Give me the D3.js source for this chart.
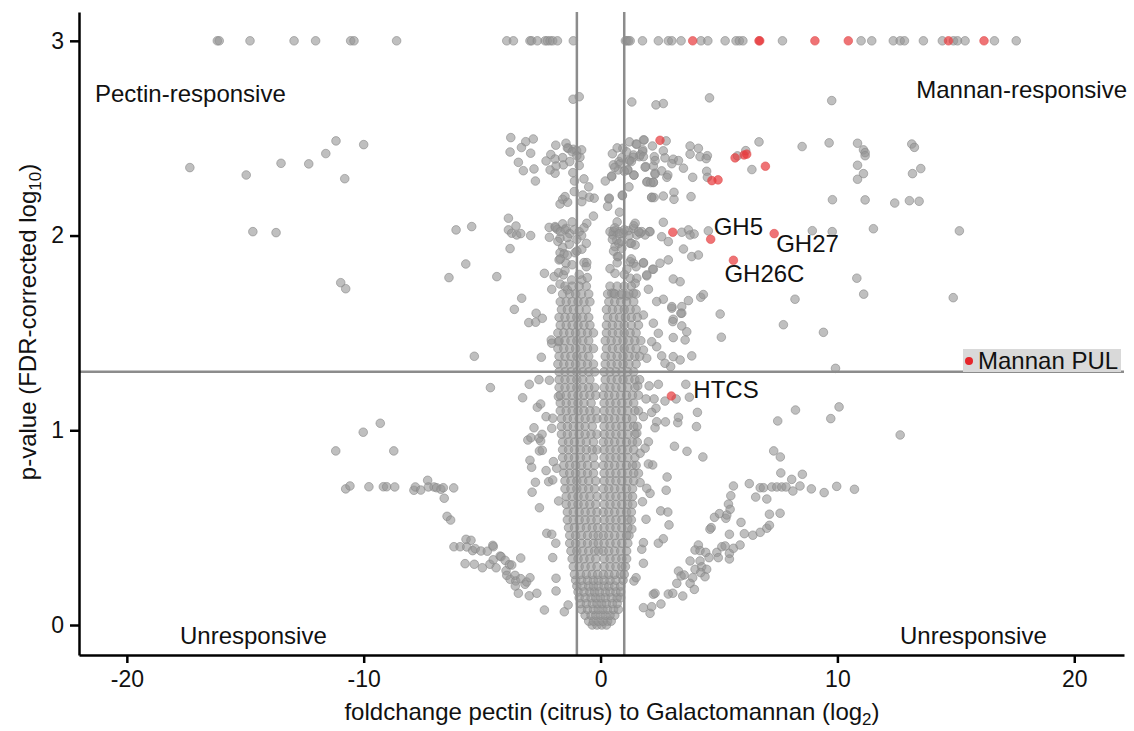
<!DOCTYPE html>
<html>
<head>
<meta charset="utf-8">
<script src="https://cdn.jsdelivr.net/npm/d3@7"></script>
<style>
  body { margin: 0; background: #fff; }
  svg { display: block; font-family: "Liberation Sans", Arial, Helvetica, sans-serif; }
  .axis text { font-size: 23px; fill: #111; }
  .axis path, .axis line { stroke: #000; stroke-width: 2.5; }
  .ref { stroke: #8c8c8c; stroke-width: 2.5; }
  .dot { fill: #959595; fill-opacity: 0.6; stroke: #888; stroke-opacity: 0.6; stroke-width: 1; }
  .hit { fill: #e8383a; fill-opacity: 0.7; stroke: #e05050; stroke-opacity: 0.6; stroke-width: 1; }
  .lbl { font-size: 24px; fill: #111; }
  .ttl { font-size: 24px; fill: #111; }
</style>
</head>
<body>
<svg width="1134" height="731"></svg>
<script>
// values: x = log2 fold change, y = -log10 FDR p
const cappedGrey = [-16.18, -16.10, -14.80, -12.94, -12.03, -10.55, -10.41, -8.61, -3.96, -3.68,
  -2.98, -2.91, -2.67, -2.34, -2.25, -2.13, -2.02, -1.82, -1.15, 1.05, 1.11, 1.18, 1.25, 1.77,
  2.44, 2.86, 3.01, 3.40, 4.24, 4.53, 5.26, 5.72, 5.86, 6.01, 7.68, 11.0, 11.45, 12.36, 12.65,
  12.83, 13.63, 14.43, 14.90, 15.07, 15.39, 16.63, 17.55];
const cappedRed = [3.89, 6.69, 6.72, 9.05, 10.46, 14.69, 16.19];

const pectinSide = [
  [-17.34, 2.349], [-14.96, 2.311], [-13.49, 2.371], [-12.32, 2.368], [-11.60, 2.421], [-11.17, 2.486],
  [-10.0, 2.467], [-10.80, 2.292], [-14.68, 2.020], [-13.70, 2.015], [-10.97, 1.758], [-10.76, 1.727],
  [-6.10, 2.029], [-5.44, 2.046], [-5.69, 1.854], [-6.40, 1.784], [-4.38, 1.789],
  [-3.64, 1.621], [-3.03, 1.553], [-2.74, 1.555], [-2.46, 1.575], [-2.72, 1.601], [-2.08, 1.464],
  [-2.06, 1.447], [-1.78, 1.455], [-5.33, 1.380], [-2.50, 1.375], [-4.65, 1.219], [-3.01, 1.236],
  [-2.60, 1.260], [-2.16, 1.257], [-3.29, 1.167], [-2.67, 1.118], [-2.53, 1.135], [-2.30, 1.070],
  [-2.02, 1.062], [-1.78, 1.173], [-2.81, 1.013], [-3.07, 0.950], [-2.94, 0.962], [-2.60, 0.959],
  [-2.47, 0.979], [-2.53, 0.945], [-2.58, 0.894], [-2.46, 0.897], [-2.06, 1.010], [-2.98, 0.846],
  [-2.91, 0.810], [-2.30, 0.793], [-2.75, 0.733], [-2.89, 0.682], [-2.58, 0.602], [-2.19, 0.736],
  [-2.02, 0.745], [-1.99, 0.839], [-1.85, 0.805], [-1.77, 0.637], [-2.27, 0.471], [-2.06, 0.466],
  [-1.89, 0.420], [-2.02, 0.346], [-1.88, 0.240], [-1.88, 0.175], [-2.37, 0.077], [-1.53, 0.068],
  [-1.37, 0.103], [-3.01, 0.150], [-2.69, 0.163], [-3.37, 0.344],
  [-9.30, 1.036], [-10.02, 0.990], [-11.18, 0.894], [-8.73, 0.894], [-10.76, 0.699], [-10.58, 0.714],
  [-9.78, 0.710], [-9.17, 0.710], [-9.03, 0.710], [-8.69, 0.709], [-7.88, 0.692], [-7.82, 0.709],
  [-7.59, 0.693], [-7.30, 0.743], [-7.27, 0.709], [-7.03, 0.709], [-6.92, 0.705], [-6.74, 0.697],
  [-6.64, 0.705], [-6.20, 0.704], [-6.60, 0.651], [-6.48, 0.558], [-6.33, 0.539], [-6.19, 0.402],
  [-5.93, 0.402], [-5.68, 0.440], [-5.65, 0.401], [-5.47, 0.435], [-5.40, 0.382], [-5.29, 0.392],
  [-5.05, 0.380], [-4.78, 0.379], [-4.55, 0.409], [-4.53, 0.402], [-5.72, 0.315], [-5.33, 0.312],
  [-4.99, 0.294], [-4.67, 0.312], [-4.53, 0.335], [-4.41, 0.294], [-4.24, 0.354], [-4.20, 0.351],
  [-4.03, 0.332], [-3.99, 0.279], [-3.96, 0.255], [-3.85, 0.310], [-3.75, 0.308], [-3.82, 0.235],
  [-3.61, 0.255], [-3.58, 0.226], [-3.60, 0.200], [-3.47, 0.163], [-3.37, 0.238], [-3.19, 0.209],
  [-3.12, 0.221], [-2.98, 0.243],
  [-3.79, 2.503], [-3.16, 2.482], [-2.84, 2.496], [-3.34, 2.452], [-3.82, 2.429], [-2.95, 2.423],
  [-3.47, 2.376], [-3.26, 2.333], [-2.81, 2.342], [-2.75, 2.280], [-1.89, 2.464], [-1.46, 2.474],
  [-1.36, 2.448], [-1.15, 2.443], [-1.01, 2.436], [-2.10, 2.416], [-1.92, 2.393], [-2.30, 2.383],
  [-1.57, 2.363], [-1.88, 2.357], [-2.13, 2.337], [-1.92, 2.320], [-1.17, 2.323], [-0.87, 2.402],
  [-1.16, 2.700], [-0.90, 2.713], [-0.70, 2.291], [-1.11, 2.226], [-0.79, 2.174], [-0.75, 2.208],
  [-0.47, 2.197], [-0.27, 2.192], [-1.60, 2.186], [-1.71, 2.162], [-1.39, 2.171], [-3.89, 2.089],
  [-3.89, 2.029], [-3.57, 2.049], [-3.75, 2.012], [-3.54, 2.003], [-3.37, 2.010], [-2.95, 2.000],
  [-3.82, 1.933], [-2.17, 2.042], [-1.92, 2.046], [-1.82, 2.032], [-1.46, 2.037], [-0.58, 2.063],
  [-2.16, 1.991], [-1.71, 1.986], [-1.32, 1.955], [-1.60, 1.940], [-1.71, 1.912], [-1.54, 1.906],
  [-1.08, 1.912], [-0.79, 1.930], [-1.75, 1.875], [-1.46, 1.858], [-0.70, 1.861], [-0.58, 1.861],
  [-2.37, 1.806], [-1.96, 1.789], [-1.77, 1.809], [-1.57, 1.798], [-1.22, 1.772], [-0.79, 1.772],
  [-0.56, 1.784], [-2.06, 1.724], [-1.71, 1.751], [-1.40, 1.721], [-3.33, 1.678]
];

const mannanSide = [
  [0.35, 2.188], [0.47, 2.303], [0.54, 2.363], [0.78, 2.380], [0.94, 2.448], [0.92, 2.205],
  [0.61, 2.025], [0.52, 2.003], [0.79, 2.020], [0.61, 1.943], [0.71, 1.892], [0.61, 1.806],
  [0.47, 1.704], [0.77, 1.960], [1.50, 2.470], [1.81, 2.491], [1.39, 2.414], [1.64, 2.405],
  [1.78, 2.431], [0.82, 2.368], [0.75, 2.337], [1.22, 2.388], [1.15, 2.337], [1.41, 2.311],
  [0.47, 2.306], [1.91, 2.354], [2.23, 2.357], [1.98, 2.277], [2.23, 2.272], [2.30, 2.320],
  [0.37, 2.192], [0.92, 2.208], [2.16, 2.197], [0.54, 2.020], [0.68, 1.977], [0.96, 2.012],
  [1.17, 2.025], [1.39, 2.037], [1.53, 2.003], [1.74, 2.020], [2.06, 2.020], [1.25, 1.960],
  [1.46, 1.952], [0.90, 1.935], [0.75, 1.892], [1.39, 1.858], [1.81, 1.858], [2.20, 1.827],
  [1.11, 1.827], [1.25, 1.781], [1.53, 1.781], [1.95, 1.793], [1.46, 1.755], [2.02, 1.724],
  [0.54, 1.704], [0.82, 1.695], [1.11, 1.690], [1.39, 1.704],
  [1.32, 2.686], [2.34, 2.671], [2.65, 2.678], [4.60, 2.707], [9.76, 2.693], [1.22, 2.481],
  [1.53, 2.469], [1.84, 2.491], [2.77, 2.486], [2.19, 2.460], [2.65, 2.435], [1.78, 2.440],
  [1.67, 2.414], [1.81, 2.405], [1.39, 2.402], [1.22, 2.383], [2.27, 2.405], [2.30, 2.385],
  [2.72, 2.399], [3.07, 2.392], [3.29, 2.385], [3.01, 2.369], [3.78, 2.460], [4.13, 2.448],
  [3.78, 2.418], [4.20, 2.405], [4.51, 2.410], [4.46, 2.395], [5.78, 2.409], [6.13, 2.436],
  [6.69, 2.481], [8.51, 2.457], [9.65, 2.476], [10.85, 2.474], [11.10, 2.440], [11.17, 2.426],
  [11.17, 2.410], [13.14, 2.470], [13.25, 2.453], [6.39, 2.339], [3.50, 2.346], [2.58, 2.332],
  [1.88, 2.351], [1.15, 2.337], [1.41, 2.310], [2.30, 2.315], [2.84, 2.311], [2.80, 2.299],
  [1.95, 2.275], [2.12, 2.272], [2.23, 2.274], [3.89, 2.299], [4.48, 2.330], [4.51, 2.299],
  [10.85, 2.361], [11.10, 2.318], [10.85, 2.289], [13.17, 2.318], [13.52, 2.344], [2.16, 2.195],
  [2.26, 2.195], [2.65, 2.203], [3.10, 2.222], [3.10, 2.186], [3.82, 2.200], [9.79, 2.184],
  [11.17, 2.183], [12.42, 2.167], [13.04, 2.179], [13.45, 2.176], [2.65, 2.068], [1.46, 2.063],
  [3.43, 2.017], [3.71, 2.029], [3.78, 2.003], [3.95, 2.008], [4.55, 2.024], [2.86, 1.969],
  [2.58, 1.994], [2.09, 2.020], [1.88, 2.003], [1.67, 2.012], [8.94, 2.025], [9.78, 2.020],
  [11.52, 2.035], [15.15, 2.024], [3.50, 1.931], [3.85, 1.892], [4.13, 1.900], [10.82, 1.781],
  [3.07, 1.777], [3.36, 1.763], [1.25, 1.866], [1.81, 1.861], [2.51, 1.858], [2.86, 1.875],
  [2.23, 1.827], [1.95, 1.798], [8.21, 1.673], [11.11, 1.699], [14.89, 1.681], [5.05, 1.597],
  [4.23, 1.683], [4.34, 1.697], [3.71, 1.666], [2.65, 1.673], [2.37, 1.661], [3.01, 1.627],
  [3.43, 1.635], [3.43, 1.601], [3.07, 1.570],
  [7.72, 1.542], [9.41, 1.503], [9.92, 1.318], [5.10, 1.478], [12.65, 0.976],
  [3.60, 1.236], [3.75, 1.170], [3.19, 1.161], [4.09, 1.092], [4.05, 1.019], [3.26, 1.039],
  [3.29, 1.067], [2.74, 1.043], [8.23, 1.104], [7.48, 1.048], [10.07, 1.120], [9.72, 1.060],
  [3.12, 0.918], [3.65, 0.892], [4.32, 0.863], [7.31, 0.894], [7.59, 0.863], [2.81, 0.760],
  [2.77, 0.692], [7.61, 0.781], [8.07, 0.748], [8.52, 0.774], [6.28, 0.726], [6.74, 0.705],
  [6.88, 0.705], [7.23, 0.709], [7.44, 0.709], [7.65, 0.709], [7.83, 0.709], [8.12, 0.688],
  [8.42, 0.714], [8.90, 0.699], [9.44, 0.680], [9.97, 0.712], [10.72, 0.697], [5.61, 0.714],
  [5.50, 0.664], [6.55, 0.657], [7.02, 0.647], [5.40, 0.621], [5.47, 0.594], [4.81, 0.553],
  [5.02, 0.572], [5.29, 0.548], [5.33, 0.565], [5.93, 0.527], [7.13, 0.569], [7.58, 0.574],
  [4.67, 0.500], [4.62, 0.492], [5.44, 0.466], [6.07, 0.469], [6.43, 0.461], [6.74, 0.476],
  [7.02, 0.497], [7.13, 0.512], [4.13, 0.411], [3.99, 0.385], [4.20, 0.382], [4.44, 0.373],
  [4.58, 0.346], [4.91, 0.373], [4.97, 0.346], [5.12, 0.402], [5.26, 0.406], [5.44, 0.368],
  [5.44, 0.339], [5.61, 0.394], [5.89, 0.411], [3.78, 0.329], [4.20, 0.329], [3.99, 0.286],
  [4.27, 0.299], [4.48, 0.286], [4.23, 0.269], [4.41, 0.248], [3.29, 0.277], [3.40, 0.252],
  [3.53, 0.257], [3.89, 0.243], [3.22, 0.214], [3.78, 0.214], [3.96, 0.183], [2.23, 0.158],
  [2.30, 0.163], [2.86, 0.159], [3.05, 0.163], [3.47, 0.149], [1.81, 0.089], [2.09, 0.060],
  [2.16, 0.094], [2.55, 0.108], [1.81, 0.317], [1.74, 0.389], [1.41, 0.226], [1.50, 0.243],
  [1.92, 0.543], [1.81, 0.423], [2.44, 0.420], [2.65, 0.443], [2.54, 0.586], [2.84, 0.580],
  [2.89, 0.514], [1.32, 0.493], [2.09, 0.676], [1.95, 0.702], [1.77, 0.633], [1.67, 0.731],
  [2.20, 0.822], [2.02, 0.827], [1.60, 0.779], [2.72, 1.150], [2.44, 1.236], [2.05, 1.228],
  [1.57, 1.228], [2.26, 1.161], [1.92, 1.161], [2.34, 1.113], [2.16, 1.092], [2.37, 1.044],
  [2.30, 1.013], [1.81, 1.070], [2.02, 0.941], [1.88, 0.908], [1.67, 0.882], [1.53, 0.985],
  [2.96, 1.327], [3.07, 1.378], [3.85, 1.382], [3.36, 1.361], [2.72, 1.344], [2.58, 1.382],
  [3.07, 1.476], [3.57, 1.464], [3.43, 1.536], [3.64, 1.506], [3.05, 1.558], [3.39, 1.601],
  [2.44, 1.498], [2.16, 1.455], [1.81, 1.412], [1.95, 1.370], [2.37, 1.429], [2.23, 1.550],
  [1.81, 1.592], [3.01, 1.635]
];

// dense V around zero, one row per p-value level
const coreRows = [
  [0.00, [-0.35, -0.15, 0.05, 0.25]],
  [0.02, [-0.5, -0.3, -0.1, 0.1, 0.3, 0.45]],
  [0.05, [-0.65, -0.4, -0.2, 0.0, 0.2, 0.4, 0.6]],
  [0.08, [-0.8, -0.55, -0.3, -0.1, 0.1, 0.3, 0.55, 0.75]],
  [0.11, [-0.85, -0.6, -0.35, -0.15, 0.05, 0.25, 0.5, 0.7]],
  [0.14, [-0.9, -0.65, -0.4, -0.2, 0.0, 0.2, 0.45, 0.7, 0.85]],
  [0.17, [-0.95, -0.7, -0.45, -0.25, -0.05, 0.2, 0.4, 0.65, 0.85]],
  [0.20, [-1.0, -0.75, -0.5, -0.3, -0.1, 0.15, 0.35, 0.6, 0.85]],
  [0.23, [-1.05, -0.8, -0.55, -0.3, -0.1, 0.15, 0.4, 0.65, 0.95]],
  [0.26, [-1.1, -0.85, -0.6, -0.35, -0.12, 0.12, 0.35, 0.6, 0.85, 1.0]],
  [0.30, [-1.15, -0.9, -0.65, -0.4, -0.15, 0.15, 0.4, 0.65, 0.9, 1.05]],
  [0.34, [-1.2, -0.95, -0.7, -0.45, -0.2, 0.15, 0.4, 0.65, 0.9, 1.1]],
  [0.38, [-1.25, -1.0, -0.75, -0.5, -0.25, -0.08, 0.12, 0.35, 0.6, 0.85, 1.1]],
  [0.42, [-1.3, -1.05, -0.8, -0.55, -0.3, -0.1, 0.15, 0.4, 0.65, 0.9, 1.15]],
  [0.46, [-1.3, -1.05, -0.8, -0.55, -0.3, -0.1, 0.12, 0.35, 0.6, 0.85, 1.1, 1.2]],
  [0.50, [-1.35, -1.1, -0.85, -0.6, -0.35, -0.12, 0.15, 0.4, 0.65, 0.9, 1.15]],
  [0.54, [-1.4, -1.15, -0.9, -0.65, -0.4, -0.15, 0.15, 0.4, 0.65, 0.9, 1.15, 1.3]],
  [0.58, [-1.4, -1.15, -0.9, -0.65, -0.4, -0.15, 0.12, 0.35, 0.6, 0.85, 1.1, 1.3]],
  [0.62, [-1.45, -1.2, -0.95, -0.7, -0.45, -0.2, 0.15, 0.4, 0.65, 0.9, 1.15, 1.35]],
  [0.66, [-1.45, -1.2, -0.95, -0.7, -0.45, -0.15, 0.15, 0.4, 0.65, 0.9, 1.15, 1.35]],
  [0.70, [-1.5, -1.25, -1.0, -0.75, -0.5, -0.25, 0.12, 0.35, 0.6, 0.85, 1.1, 1.35]],
  [0.74, [-1.5, -1.25, -1.0, -0.75, -0.5, -0.2, 0.15, 0.4, 0.65, 0.9, 1.15, 1.4]],
  [0.78, [-1.55, -1.3, -1.05, -0.8, -0.55, -0.3, 0.15, 0.4, 0.65, 0.9, 1.15, 1.4]],
  [0.82, [-1.55, -1.3, -1.05, -0.8, -0.55, -0.25, 0.12, 0.35, 0.6, 0.85, 1.1, 1.35, 1.5]],
  [0.86, [-1.6, -1.35, -1.1, -0.85, -0.6, -0.3, 0.15, 0.4, 0.65, 0.9, 1.15, 1.45]],
  [0.90, [-1.6, -1.35, -1.1, -0.85, -0.6, -0.35, -0.15, 0.15, 0.4, 0.65, 0.9, 1.15, 1.4]],
  [0.94, [-1.6, -1.35, -1.1, -0.85, -0.6, -0.3, 0.12, 0.35, 0.6, 0.85, 1.1, 1.35, 1.55]],
  [0.98, [-1.65, -1.4, -1.15, -0.9, -0.65, -0.4, -0.15, 0.15, 0.4, 0.65, 0.9, 1.15, 1.45]],
  [1.02, [-1.65, -1.4, -1.15, -0.9, -0.65, -0.35, 0.15, 0.4, 0.65, 0.9, 1.15, 1.4, 1.55]],
  [1.06, [-1.65, -1.4, -1.15, -0.9, -0.65, -0.4, -0.15, 0.12, 0.35, 0.6, 0.85, 1.1, 1.35]],
  [1.10, [-1.7, -1.45, -1.2, -0.95, -0.7, -0.45, -0.2, 0.15, 0.4, 0.65, 0.9, 1.15, 1.45, 1.6]],
  [1.14, [-1.7, -1.45, -1.2, -0.95, -0.7, -0.4, 0.15, 0.4, 0.65, 0.9, 1.15, 1.4]],
  [1.18, [-1.7, -1.45, -1.2, -0.95, -0.7, -0.45, -0.2, 0.12, 0.35, 0.6, 0.85, 1.1, 1.35, 1.6]],
  [1.22, [-1.75, -1.5, -1.25, -1.0, -0.75, -0.5, -0.25, 0.15, 0.4, 0.65, 0.9, 1.15, 1.45]],
  [1.26, [-1.75, -1.5, -1.25, -1.0, -0.75, -0.45, 0.2, 0.45, 0.7, 0.95, 1.2, 1.45, 1.65]],
  [1.30, [-1.75, -1.5, -1.25, -1.0, -0.75, -0.5, -0.25, 0.15, 0.4, 0.65, 0.9, 1.15, 1.4]],
  [1.34, [-1.8, -1.55, -1.3, -1.05, -0.8, -0.55, -0.3, 0.2, 0.45, 0.7, 0.95, 1.2, 1.5]],
  [1.38, [-1.75, -1.5, -1.25, -1.0, -0.75, -0.5, 0.2, 0.45, 0.7, 0.95, 1.2, 1.45, 1.65]],
  [1.42, [-1.8, -1.55, -1.3, -1.05, -0.8, -0.55, -0.3, 0.25, 0.5, 0.75, 1.0, 1.25, 1.5]],
  [1.46, [-1.75, -1.5, -1.25, -1.0, -0.75, -0.5, 0.2, 0.45, 0.7, 0.95, 1.2, 1.45, 1.7]],
  [1.50, [-1.8, -1.55, -1.3, -1.05, -0.8, -0.55, -0.3, 0.25, 0.5, 0.75, 1.0, 1.25, 1.5]],
  [1.54, [-1.7, -1.45, -1.2, -0.95, -0.7, -0.45, 0.25, 0.5, 0.75, 1.0, 1.3, 1.6]],
  [1.58, [-1.75, -1.5, -1.25, -1.0, -0.75, -0.5, 0.3, 0.55, 0.8, 1.05, 1.3, 1.55]],
  [1.62, [-1.65, -1.4, -1.15, -0.9, -0.6, 0.25, 0.5, 0.75, 1.0, 1.25, 1.5]],
  [1.66, [-1.7, -1.45, -1.2, -0.95, -0.7, -0.45, 0.35, 0.6, 0.85, 1.1, 1.4]],
  [1.70, [-1.6, -1.3, -1.05, -0.8, -0.5, 0.3, 0.6, 0.9, 1.2, 1.5]],
  [1.74, [-1.5, -1.2, -0.9, -0.6, 0.4, 0.7, 1.0, 1.3]]
];

// tight clumps near +/-1 higher up
const coreClusters = [
  [-1.9, 2.04], [-1.7, 2.02], [-1.5, 2.03], [-1.3, 2.01], [-1.1, 2.03], [-0.9, 2.02], [-0.7, 2.04],
  [-1.6, 2.06], [-1.2, 2.07], [-0.8, 2.0], [-1.4, 1.99], [-1.0, 1.98], [-1.8, 1.97], [-0.6, 1.96],
  [0.4, 2.02], [0.6, 2.04], [0.8, 2.01], [1.0, 2.03], [1.2, 2.0], [1.4, 2.05], [1.6, 2.02],
  [0.5, 1.98], [0.9, 1.97], [1.3, 1.96], [0.7, 2.07],
  [-1.4, 2.45], [-1.2, 2.43], [-1.0, 2.41], [-0.8, 2.44], [-1.3, 2.38], [-0.9, 2.36], [-1.6, 2.4],
  [0.5, 2.42], [0.7, 2.45], [0.9, 2.4], [1.1, 2.43], [1.3, 2.38], [0.6, 2.35], [1.0, 2.33],
  [-1.5, 1.82], [-1.2, 1.85], [-0.9, 1.8], [-1.7, 1.88], [-0.6, 1.84], [-1.0, 1.92], [-1.4, 1.9],
  [0.4, 1.83], [0.7, 1.86], [1.0, 1.8], [1.3, 1.88], [0.55, 1.92], [1.5, 1.84],
  [-0.5, 2.25], [0.3, 2.15], [-1.5, 2.2], [-1.1, 2.28], [0.8, 2.12], [1.2, 2.25], [-0.3, 2.1], [0.2, 2.28]
];

// mannan PUL genes, some with names
const pulGenes = [
  [2.51, 2.489, ''], [5.68, 2.399, ''], [6.17, 2.418, ''], [6.06, 2.414, ''], [6.96, 2.356, ''],
  [4.70, 2.282, ''], [4.96, 2.286, ''], [3.05, 2.017, ''], [4.65, 1.981, 'GH5'],
  [7.33, 2.010, 'GH27'], [5.61, 1.873, 'GH26C'], [2.99, 1.176, 'HTCS']
];

const xTicks = [-20, -10, 0, 10, 20];
const yTicks = [0, 1, 2, 3];
const foldCut = [-1, 1];
const pCut = 1.301;

const svg = d3.select('svg');
const x = d3.scaleLinear().domain([-22.02, 22.1]).range([79, 1124]);
const y = d3.scaleLinear().domain([-0.154, 3.148]).range([655, 12]);

const greyPts = []
  .concat(cappedGrey.map(v => [v, 3]))
  .concat(pectinSide, mannanSide, coreClusters)
  .concat(coreRows.flatMap(([py, xs]) => xs.map(px => [px, py])));
const redPts = cappedRed.map(v => [v, 3]).concat(pulGenes.map(d => [d[0], d[1]]));

svg.append('g')
  .selectAll('circle')
  .data(greyPts)
  .join('circle')
  .attr('class', 'dot')
  .attr('cx', d => x(d[0]))
  .attr('cy', d => y(d[1]))
  .attr('r', 4.3);

svg.append('g')
  .selectAll('circle')
  .data(redPts)
  .join('circle')
  .attr('class', 'hit')
  .attr('cx', d => x(d[0]))
  .attr('cy', d => y(d[1]))
  .attr('r', 4.3);

// threshold lines sit over the points
svg.append('g')
  .selectAll('line')
  .data(foldCut)
  .join('line')
  .attr('class', 'ref')
  .attr('x1', d => x(d)).attr('x2', d => x(d))
  .attr('y1', y.range()[1]).attr('y2', y.range()[0]);

svg.append('line')
  .attr('class', 'ref')
  .attr('x1', x.range()[0]).attr('x2', x.range()[1])
  .attr('y1', y(pCut)).attr('y2', y(pCut));

// axes
svg.append('g')
  .attr('class', 'axis')
  .attr('transform', `translate(0, ${y.range()[0]})`)
  .call(d3.axisBottom(x).tickValues(xTicks).tickSize(8).tickSizeOuter(0).tickPadding(4).tickFormat(d => String(d)))
  .call(g => g.selectAll('text').attr('dy', '0.85em'));

svg.append('g')
  .attr('class', 'axis')
  .attr('transform', `translate(${x.range()[0]}, 0)`)
  .call(d3.axisLeft(y).tickValues(yTicks).tickSize(9).tickSizeOuter(0).tickPadding(6).tickFormat(d => String(d)));

// gene labels
const labelOffset = { GH5: [3, -4], GH27: [2, 18], GH26C: [-9, 22], HTCS: [22, 2] };
svg.append('g')
  .selectAll('text')
  .data(pulGenes.filter(d => d[2]))
  .join('text')
  .attr('class', 'lbl')
  .attr('x', d => x(d[0]) + labelOffset[d[2]][0])
  .attr('y', d => y(d[1]) + labelOffset[d[2]][1])
  .text(d => d[2]);

// quadrant captions
const quad = svg.append('g').attr('class', 'lbl');
quad.append('text').attr('x', 95).attr('y', 102).text('Pectin-responsive');
quad.append('text').attr('x', 1127).attr('y', 98).attr('text-anchor', 'end').text('Mannan-responsive');
quad.append('text').attr('x', 180).attr('y', 644).text('Unresponsive');
quad.append('text').attr('x', 900).attr('y', 644).text('Unresponsive');

// legend
const leg = svg.append('g').attr('transform', 'translate(963, 349)');
leg.append('rect').attr('width', 158).attr('height', 23).attr('fill', '#d9d9d9');
leg.append('circle').attr('cx', 6).attr('cy', 12).attr('r', 4).attr('fill', '#e5252a');
leg.append('text').attr('class', 'lbl').attr('x', 15).attr('y', 20).text('Mannan PUL');

// axis titles
const xt = svg.append('text').attr('class', 'ttl').attr('x', 612).attr('y', 720).attr('text-anchor', 'middle');
xt.append('tspan').text('foldchange pectin (citrus) to Galactomannan (log');
xt.append('tspan').attr('dy', 5).attr('font-size', 17).text('2');
xt.append('tspan').attr('dy', -5).text(')');

const yt = svg.append('text').attr('class', 'ttl')
  .attr('transform', 'translate(36, 322) rotate(-90)')
  .attr('text-anchor', 'middle');
yt.append('tspan').text('p-value (FDR-corrected log');
yt.append('tspan').attr('dy', 5).attr('font-size', 17).text('10');
yt.append('tspan').attr('dy', -5).text(')');
</script>
</body>
</html>
